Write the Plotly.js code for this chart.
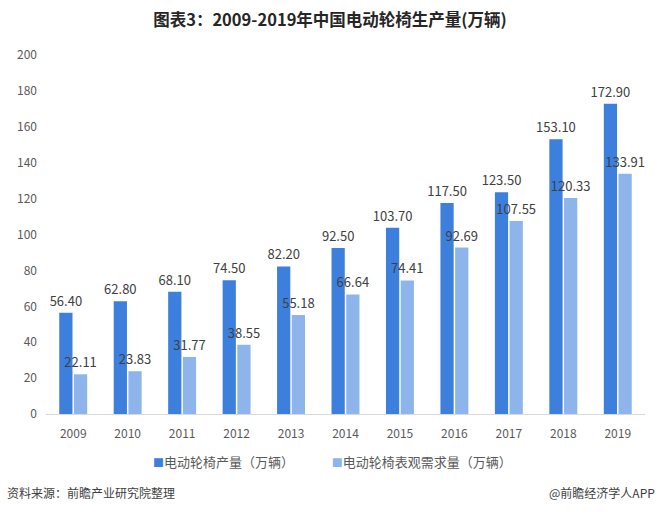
<!DOCTYPE html>
<html>
<head>
<meta charset="utf-8">
<script src="https://cdn.plot.ly/plotly-3.0.1.min.js"></script>
<style>
  body { margin: 0; background: #fff; }
  #plot { width: 660px; height: 514px; }
</style>
</head>
<body>
<div id="plot"></div>
<script>
var years = ["2009", "2010", "2011", "2012", "2013", "2014", "2015", "2016", "2017", "2018", "2019"];
var production = [56.40, 62.80, 68.10, 74.50, 82.20, 92.50, 103.70, 117.50, 123.50, 153.10, 172.90];
var demand = [22.11, 23.83, 31.77, 38.55, 55.18, 66.64, 74.41, 92.69, 107.55, 120.33, 133.91];
var yTicks = [0, 20, 40, 60, 80, 100, 120, 140, 160, 180, 200];
var seriesNames = ["电动轮椅产量（万辆）", "电动轮椅表观需求量（万辆）"];
var colors = ["#3c7fdd", "#8db5ec"];

var font = "'Microsoft YaHei', 'Noto Sans CJK SC', sans-serif";

function barTrace(values, i) {
  return {
    x: years,
    y: values,
    type: "bar",
    name: seriesNames[i],
    marker: { color: colors[i] },
    text: values.map(function (v) { return v.toFixed(2); }),
    textposition: "outside",
    constraintext: "none",
    cliponaxis: false,
    textfont: { family: font, size: 13, color: "#404040" },
  };
}

// legend drawn as text so the small square markers match
var legendText = seriesNames.map(function (n, i) {
  return "<span style='color:" + colors[i] + ";font-size:11px'>■</span>" + n;
}).join("             ");

var layout = {
  width: 660,
  height: 514,
  margin: { l: 46, r: 15, t: 55, b: 100 },
  paper_bgcolor: "#fff",
  plot_bgcolor: "#fff",
  font: { family: font, size: 12, color: "#595959" },
  title: {
    text: "<b>图表3：2009-2019年中国电动轮椅生产量(万辆)</b>",
    font: { family: font, size: 16.5, color: "#262626" },
    x: 0.5,
    xanchor: "center",
    y: 0.96,
    yanchor: "middle",
  },
  barmode: "group",
  bargap: 0.46,
  bargroupgap: 0.1,
  showlegend: false,
  xaxis: {
    type: "category",
    showgrid: false,
    showline: true,
    linecolor: "#d9d9d9",
    linewidth: 1,
    ticks: "",
    ticklabelstandoff: 9,
    tickfont: { family: font, size: 12, color: "#595959" },
  },
  yaxis: {
    range: [0, 200],
    tickvals: yTicks,
    ticktext: yTicks.map(String),
    showgrid: false,
    zeroline: false,
    showline: false,
    ticks: "",
    ticklabelstandoff: 8,
    tickfont: { family: font, size: 12, color: "#595959" },
  },
  annotations: [
    {
      text: legendText,
      xref: "paper", yref: "paper",
      x: 0.479, y: -0.131,
      xanchor: "center", yanchor: "middle",
      showarrow: false,
      font: { family: font, size: 13, color: "#595959" },
    },
    {
      text: "资料来源：前瞻产业研究院整理",
      xref: "paper", yref: "paper",
      x: -0.068, y: -0.22,
      xanchor: "left", yanchor: "middle",
      showarrow: false,
      font: { family: font, size: 12, color: "#404040" },
    },
    {
      text: "@前瞻经济学人APP",
      xref: "paper", yref: "paper",
      x: 1.02, y: -0.22,
      xanchor: "right", yanchor: "middle",
      showarrow: false,
      font: { family: font, size: 12, color: "#404040" },
    },
  ],
};

Plotly.newPlot("plot", [barTrace(production, 0), barTrace(demand, 1)], layout, { displayModeBar: false });
</script>
</body>
</html>
